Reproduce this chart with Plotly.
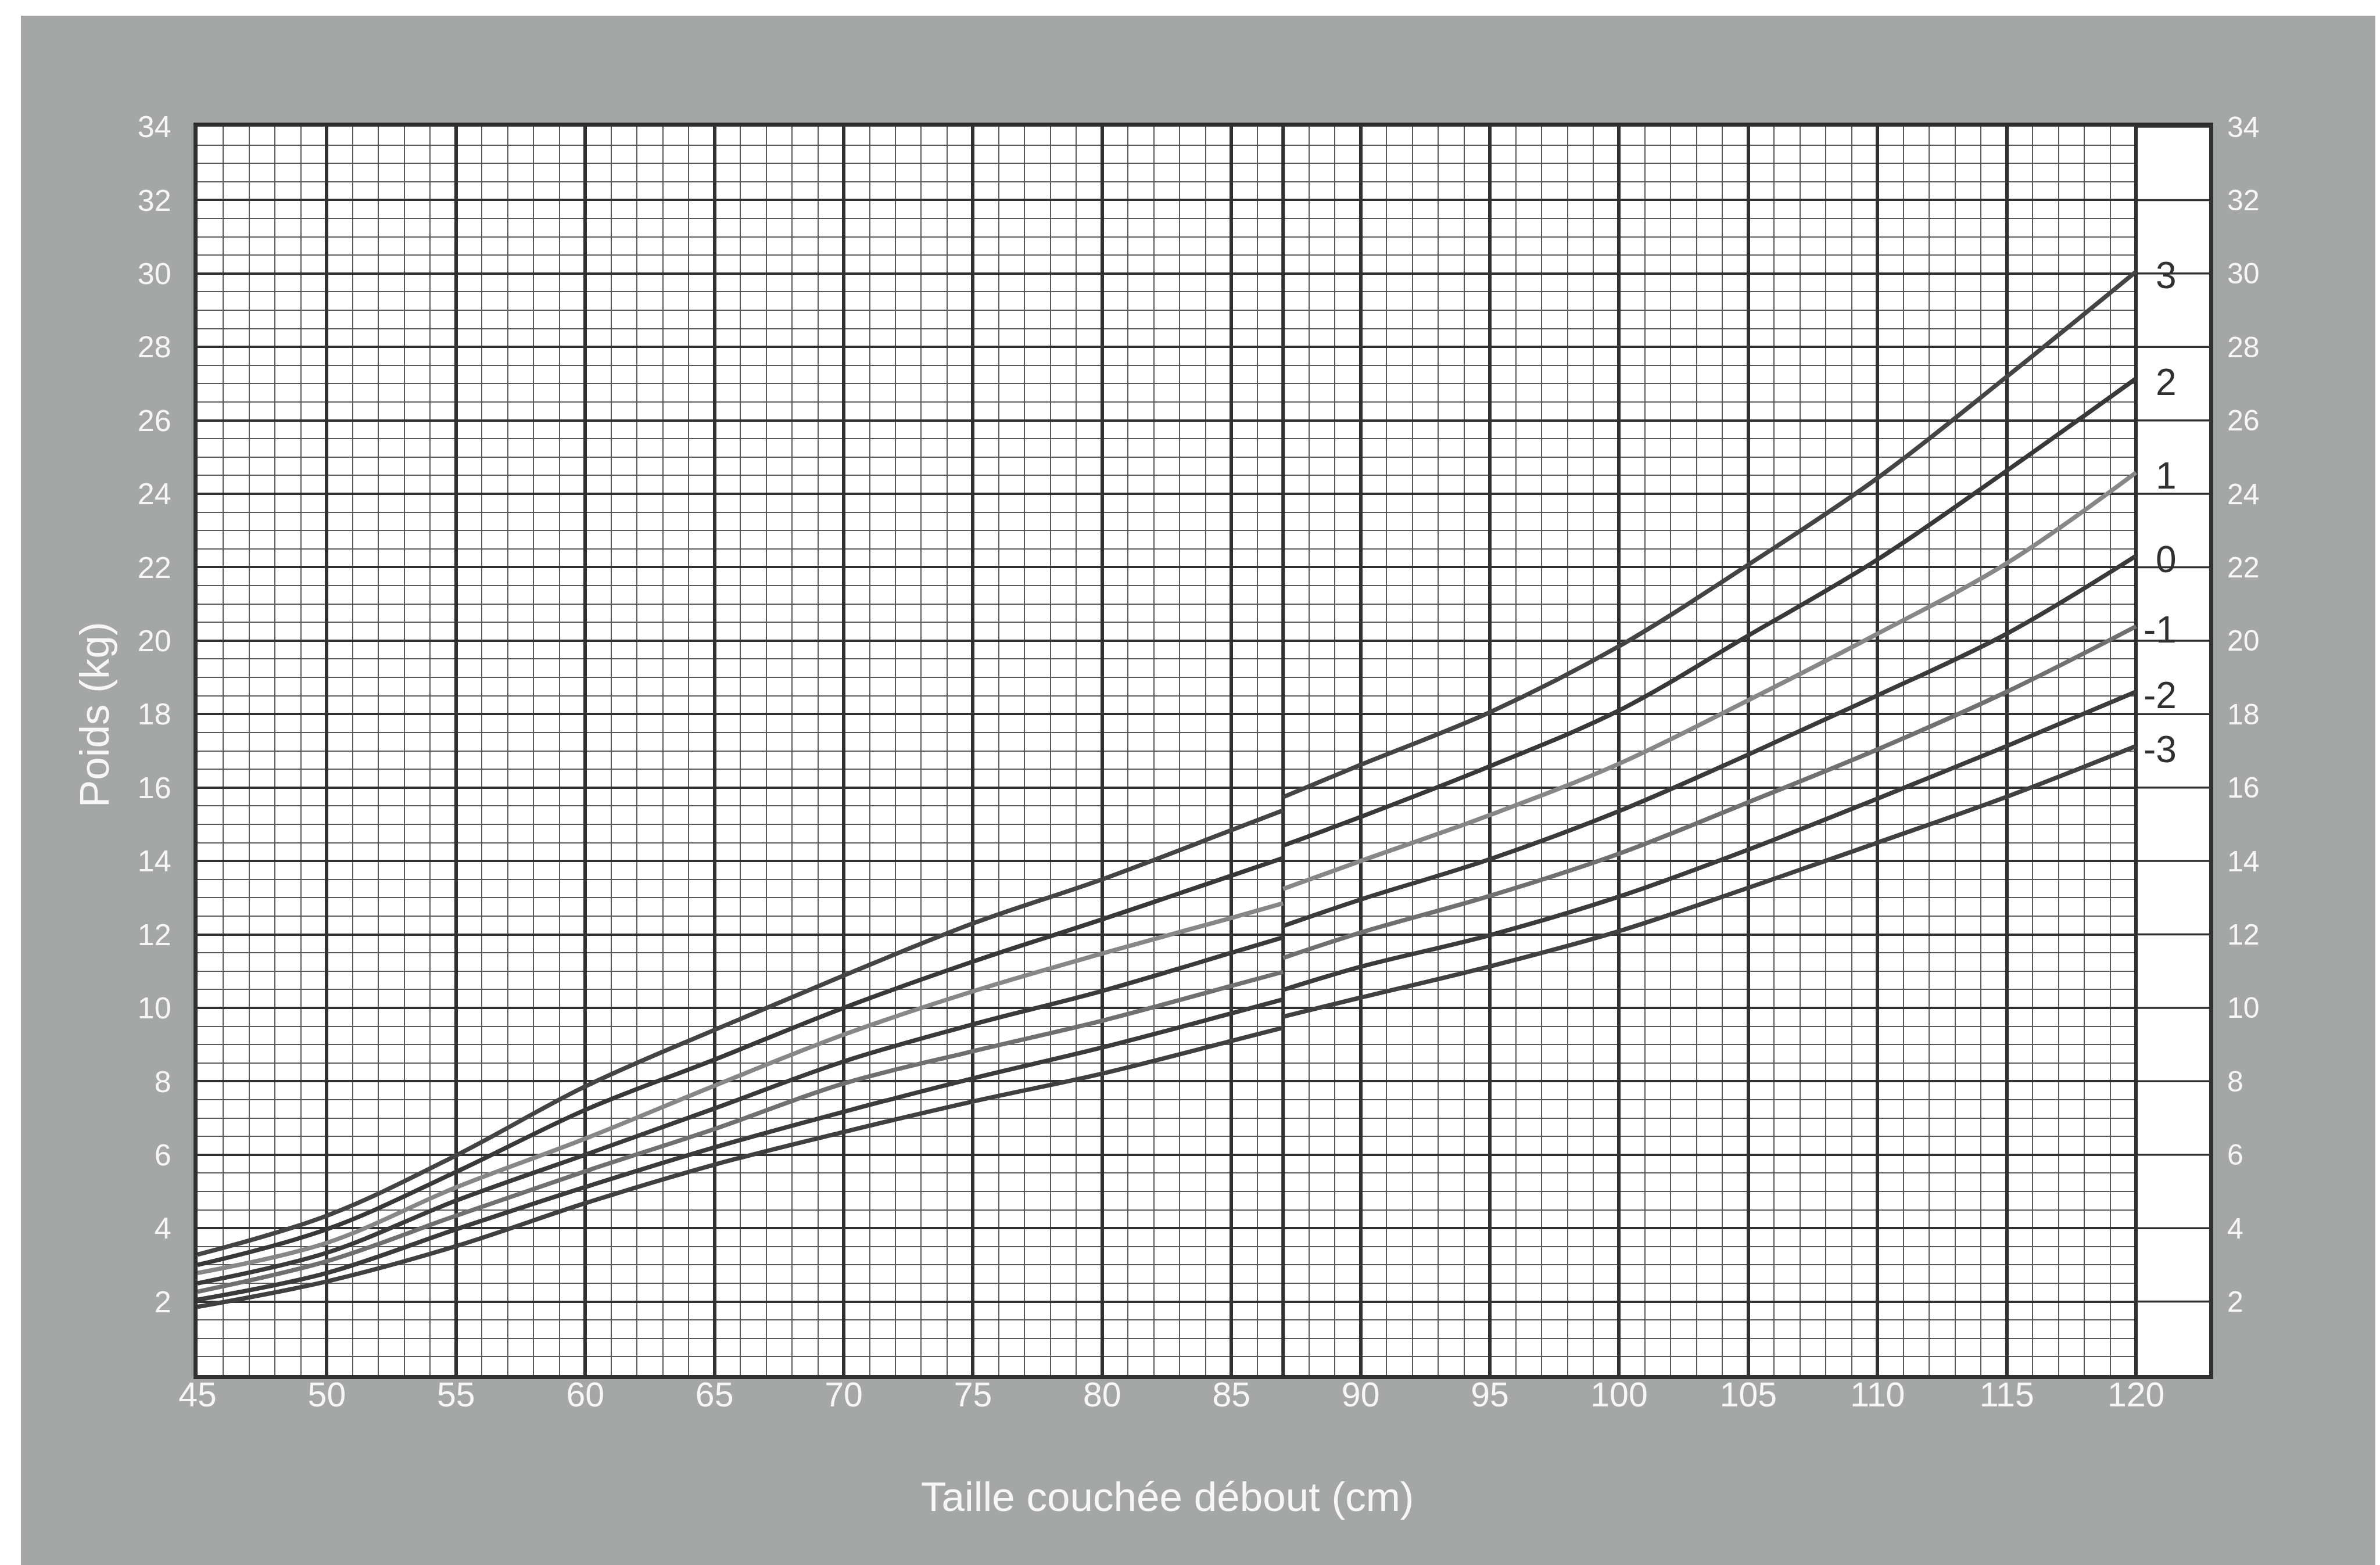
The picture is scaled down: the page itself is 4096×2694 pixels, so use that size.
import plotly.graph_objects as go

# ---------------- data ----------------
# Lying length part (45-87 cm) and standing height part (87-120 cm)
LENGTH_CM = [45, 50, 55, 60, 65, 70, 75, 80, 85, 87]
HEIGHT_CM = [87, 90, 95, 100, 105, 110, 115, 120]

SD_P3_LEN = [3.28, 4.34, 5.98, 7.86, 9.40, 10.88, 12.30, 13.50, 14.84, 15.38]
SD_P3_HGT = [15.74, 16.62, 18.05, 19.85, 22.07, 24.43, 27.19, 30.05]
SD_P2_LEN = [3.00, 3.97, 5.53, 7.22, 8.59, 10.00, 11.26, 12.41, 13.60, 14.08]
SD_P2_HGT = [14.42, 15.20, 16.58, 18.10, 20.14, 22.21, 24.63, 27.14]
SD_P1_LEN = [2.78, 3.60, 5.11, 6.44, 7.88, 9.27, 10.45, 11.48, 12.45, 12.85]
SD_P1_HGT = [13.24, 14.00, 15.25, 16.65, 18.38, 20.19, 22.11, 24.58]
SD_0_LEN = [2.50, 3.33, 4.75, 6.00, 7.26, 8.54, 9.55, 10.46, 11.50, 11.92]
SD_0_HGT = [12.23, 12.95, 14.05, 15.36, 16.90, 18.51, 20.19, 22.31]
SD_M1_LEN = [2.27, 3.10, 4.34, 5.55, 6.70, 7.94, 8.82, 9.65, 10.60, 10.98]
SD_M1_HGT = [11.36, 12.05, 13.05, 14.20, 15.60, 17.04, 18.61, 20.39]
SD_M2_LEN = [2.05, 2.78, 3.97, 5.12, 6.20, 7.17, 8.08, 8.92, 9.85, 10.23]
SD_M2_HGT = [10.49, 11.12, 11.98, 13.03, 14.31, 15.70, 17.13, 18.61]
SD_M3_LEN = [1.86, 2.55, 3.51, 4.68, 5.73, 6.62, 7.45, 8.21, 9.10, 9.46]
SD_M3_HGT = [9.76, 10.28, 11.13, 12.09, 13.27, 14.50, 15.75, 17.13]

SD_LABELS = ["3", "2", "1", "0", "-1", "-2", "-3"]

X_TICKS = [45, 50, 55, 60, 65, 70, 75, 80, 85, 90, 95, 100, 105, 110, 115, 120]
Y_TICKS = [2, 4, 6, 8, 10, 12, 14, 16, 18, 20, 22, 24, 26, 28, 30, 32, 34]
SWITCH_CM = 87          # length -> height switch line
X_RANGE = [45, 122.83]
Y_RANGE = [0, 34]

X_TITLE = "Taille couchée débout (cm)"
Y_TITLE = "Poids (kg)"

# ---------------- styling ----------------
W, H = 4096, 2694
ML, MR, MT, MB = 332, 302, 210, 335
PW, PH = W - ML - MR, H - MT - MB

PAGE_GRAY = "#a5a7a6"
TICK_WHITE = "#f6f6f6"
DARK = "#303030"
FONT = "Liberation Sans, Arial, sans-serif"
CURVE_COLORS = ["#444444", "#383838", "#878787", "#3a3a3a", "#707070", "#3b3b3b", "#404040"]


def px_x(px):
    return (px - ML) / PW


def px_y(py):
    return (H - MB - py) / PH


series_len = [SD_P3_LEN, SD_P2_LEN, SD_P1_LEN, SD_0_LEN, SD_M1_LEN, SD_M2_LEN, SD_M3_LEN]
series_hgt = [SD_P3_HGT, SD_P2_HGT, SD_P1_HGT, SD_0_HGT, SD_M1_HGT, SD_M2_HGT, SD_M3_HGT]

fig = go.Figure()
for lab, v_len, v_hgt, col in zip(SD_LABELS, series_len, series_hgt, CURVE_COLORS):
    for xs, ys in ((LENGTH_CM, v_len), (HEIGHT_CM, v_hgt)):
        fig.add_trace(go.Scatter(
            x=xs, y=ys, mode="lines", name=lab,
            line=dict(color=col, width=7.5, shape="spline", smoothing=1.0),
            showlegend=False, hoverinfo="skip"))

# invisible trace to carry the right-hand axis
fig.add_trace(go.Scatter(x=HEIGHT_CM, y=SD_0_HGT, yaxis="y2", mode="lines",
                         line=dict(color="rgba(0,0,0,0)", width=0),
                         showlegend=False, hoverinfo="skip"))

shapes = []
# page: white strips at top and left (rest of page is gray)
shapes.append(dict(type="rect", xref="paper", yref="paper", layer="below",
                   x0=px_x(0), x1=px_x(W), y0=px_y(19), y1=px_y(0),
                   fillcolor="white", line=dict(width=0)))
shapes.append(dict(type="rect", xref="paper", yref="paper", layer="below",
                   x0=px_x(0), x1=px_x(28), y0=px_y(H), y1=px_y(0),
                   fillcolor="white", line=dict(width=0)))
# label strip to the right of the last length value
shapes.append(dict(type="rect", xref="x", yref="y", layer="between",
                   x0=X_TICKS[-1], x1=X_RANGE[1], y0=Y_RANGE[0], y1=Y_RANGE[1],
                   fillcolor="white", line=dict(width=0)))
for yv in Y_TICKS:
    shapes.append(dict(type="line", xref="x", yref="y", layer="between",
                       x0=X_TICKS[-1], x1=X_RANGE[1], y0=yv, y1=yv,
                       line=dict(color=DARK, width=3.5)))
shapes.append(dict(type="line", xref="x", yref="y", layer="between",
                   x0=X_TICKS[-1], x1=X_TICKS[-1], y0=Y_RANGE[0], y1=Y_RANGE[1],
                   line=dict(color=DARK, width=6)))
shapes.append(dict(type="line", xref="x", yref="y", layer="between",
                   x0=SWITCH_CM, x1=SWITCH_CM, y0=Y_RANGE[0], y1=Y_RANGE[1],
                   line=dict(color=DARK, width=6)))

annotations = []
for lab, vals in zip(SD_LABELS, series_hgt):
    annotations.append(dict(x=121.61, y=vals[-1], xref="x", yref="y",
                            text=lab, showarrow=False, xanchor="right",
                            yanchor="middle", yshift=-6,
                            font=dict(family=FONT, size=64, color=DARK)))
annotations.append(dict(x=px_x(2001), y=px_y(2568), xref="paper", yref="paper",
                        text=X_TITLE, showarrow=False, xanchor="center",
                        yanchor="middle",
                        font=dict(family=FONT, size=71, color=TICK_WHITE)))
annotations.append(dict(x=px_x(154), y=px_y(1222), xref="paper", yref="paper",
                        text=Y_TITLE, showarrow=False, textangle=-90,
                        xanchor="center", yanchor="middle",
                        font=dict(family=FONT, size=71, color=TICK_WHITE)))

fig.update_layout(
    width=W, height=H,
    margin=dict(l=ML, r=MR, t=MT, b=MB, pad=0),
    paper_bgcolor=PAGE_GRAY, plot_bgcolor="white",
    shapes=shapes, annotations=annotations,
    xaxis=dict(range=X_RANGE, tickmode="array", tickvals=X_TICKS,
               showgrid=True, gridcolor=DARK, gridwidth=6,
               minor=dict(tickmode="linear", tick0=45, dtick=1, showgrid=True,
                          gridcolor="#595959", gridwidth=1.6),
               zeroline=False, showline=True, mirror=True, linecolor=DARK,
               linewidth=7, ticks="", ticklabelstandoff=-24,
               tickfont=dict(family=FONT, size=59, color=TICK_WHITE)),
    yaxis=dict(range=Y_RANGE, tickmode="array", tickvals=Y_TICKS,
               showgrid=True, gridcolor=DARK, gridwidth=3.5,
               minor=dict(tickmode="linear", tick0=0, dtick=0.5, showgrid=True,
                          gridcolor="#595959", gridwidth=1.6),
               zeroline=False, showline=True, mirror=True, linecolor=DARK,
               linewidth=7, ticks="", ticklabelstandoff=28,
               tickfont=dict(family=FONT, size=52, color=TICK_WHITE)),
    yaxis2=dict(range=Y_RANGE, overlaying="y", side="right", tickmode="array",
                tickvals=Y_TICKS, showgrid=False, zeroline=False, showline=False,
                ticks="", ticklabelstandoff=30,
                tickfont=dict(family=FONT, size=50, color=TICK_WHITE)),
)

fig.write_html("out.html")
